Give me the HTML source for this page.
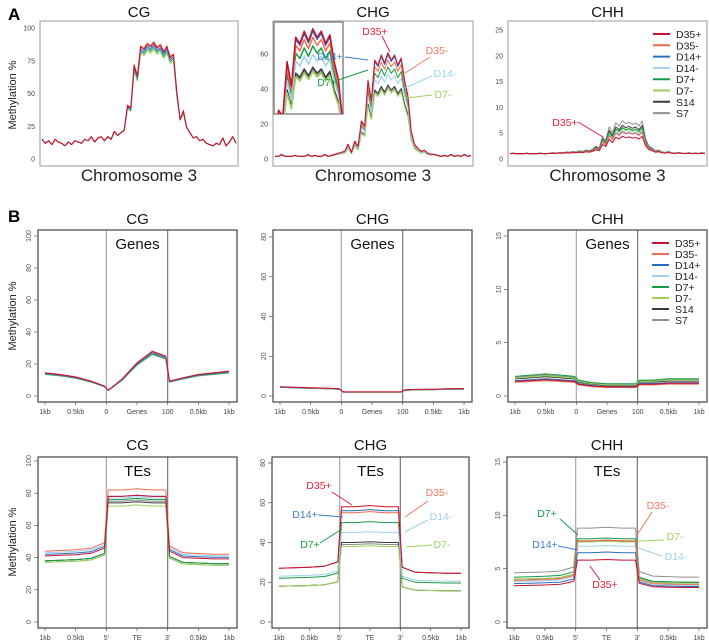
<!DOCTYPE html>
<html><head><meta charset="utf-8"><style>
html,body{margin:0;padding:0;background:#fff;}
svg{display:block;font-family:"Liberation Sans",Arial,sans-serif;}
</style></head><body>
<svg id="fig" width="709" height="642" viewBox="0 0 709 642" xmlns="http://www.w3.org/2000/svg">
<text x="8" y="20" font-size="17" font-weight="bold">A</text>
<text x="8" y="222" font-size="17" font-weight="bold">B</text>
<text transform="translate(16,95) rotate(-90)" text-anchor="middle" font-size="11" fill="#222">Methylation %</text>
<text transform="translate(16,316) rotate(-90)" text-anchor="middle" font-size="11" fill="#222">Methylation %</text>
<text transform="translate(16,542) rotate(-90)" text-anchor="middle" font-size="11" fill="#222">Methylation %</text>
</svg>
<script>
// ---------- data ----------
const seriesNames = ["D35+","D35-","D14+","D14-","D7+","D7-","S14","S7"];
const seriesColors = ["#c8102e","#f06a4f","#2a6fbf","#9fd0ef","#1a9a45","#9ad35a","#3a3a3a","#909090"];
const drawOrder = [7,6,5,4,3,2,1,0];

// Panel A (chromosome 3)
const chrCG = [15,12,14,11,15,13,12,10,13,11,14,13,12,15,14,17,13,16,17,14,17,15,21,18,20,22,40,38,70,62,84,82,86,84,87,83,85,80,84,76,78,50,30,36,24,20,16,17,14,15,12,11,10,12,11,16,10,13,17,12];
const cgMult = [1.02,1.03,1.0,0.99,0.98,0.96,0.99,0.98];
const chgShape = [0,0,0.02,0,0,0,0.01,0,0,0,0.02,0,0.01,0,0,0.02,0,0.01,0.02,0.03,0.04,0.05,0.12,0.04,0.15,0.1,0.35,0.3,0.75,0.55,0.95,0.9,1.0,0.92,1.02,0.95,1.0,0.9,0.97,0.75,0.6,0.25,0.12,0.08,0.05,0.06,0.03,0.02,0.02,0.01,0,0.01,0,0.02,0,0.01,0,0.02,0,0.01];
const chgPlateau = [58,54,57,46,50,38,40,39];
const chgBase = 1.5;
const chhShape = [0,0.02,0,0.01,0,0.02,0,0.01,0,0.02,0.01,0,0.02,0.03,0.02,0.04,0.03,0.05,0.04,0.06,0.05,0.08,0.06,0.1,0.08,0.12,0.2,0.15,0.45,0.35,0.7,0.55,0.8,0.72,0.85,0.78,0.82,0.76,0.8,0.72,0.85,0.4,0.2,0.15,0.08,0.1,0.05,0.04,0.06,0.03,0.02,0.04,0.02,0.01,0.03,0.01,0.02,0.01,0.03,0.02];
const chhPlateau = [4,5,5,5.3,6,5.8,6.5,7.5];
const chhBase = 1.0;
const ticksA_CG = [0,25,50,75,100];
const ticksA_CHG = [0,20,40,60];
const ticksA_CHH = [0,5,10,15,20,25];

// Panel B (metaplots)
const metaX = [0,0.25,0.5,0.75,0.97,1.03,1.25,1.5,1.75,1.97,2.03,2.25,2.5,2.75,3];
const genesCG = [14,13,11.5,9,6,3.5,10,20,27,24,9,11,13,14,15];
const genesCHG = [4.5,4.2,4,3.8,3.5,2,2,2,2,2,3,3.2,3.3,3.5,3.6];
const genesCHH = [1.6,1.7,1.8,1.7,1.6,1.3,1.1,1.0,1.0,1.0,1.3,1.3,1.4,1.4,1.4];
const teShape = [1,1.01,1.02,1.04,1.12,1,1.0,1.01,1.0,1.0,1.1,1.0,0.99,0.98,0.98];
const genesCGLevels = [[1.03,1.03,1.03],[1.04,1.04,1.04],[1,1,1],[0.99,0.99,0.99],[0.97,0.97,0.97],[0.96,0.96,0.96],[0.98,0.98,0.98],[0.98,0.98,0.98]];
const genesCHGLevels = [[1.04,1.04,1.04],[1.03,1.03,1.03],[1,1,1],[0.99,0.99,0.99],[0.97,0.97,0.97],[0.96,0.96,0.96],[0.98,0.98,0.98],[0.98,0.98,0.98]];
const genesCHHLevels = [[0.85,0.85,0.85],[0.8,0.8,0.8],[0.9,0.9,0.9],[0.85,0.85,0.85],[1.15,1.15,1.15],[1.05,1.05,1.05],[1.0,1.0,1.0],[1.1,1.1,1.1]];
const teCGLevels = [[41,78,40],[44,82,43],[42,78,41],[43,77,42],[38,76,37],[37,72,36],[38,74,37],[37,75,36]];
const teCHGLevels = [[27,58,25],[27,55,25],[27,56,25],[23,45,21],[22,50,20],[18,38,16],[18,40,16],[18,39,16]];
const teCHHLevels = [[3.4,5.8,3.3],[3.9,7.6,3.6],[3.6,6.5,3.4],[3.8,7.1,3.5],[4.2,7.8,3.8],[4.0,7.5,3.7],[4.0,7.6,3.8],[4.6,8.8,4.3]];
const ticksB_CG = [0,20,40,60,80,100];
const ticksB_CHG = [0,20,40,60,80];
const ticksB_CHH = [0,5,10,15];
const genesXLabels = ["1kb","0.5kb","0","Genes","100","0.5kb","1kb"];
const teXLabels = ["1kb","0.5kb","5'","TE","3'","0.5kb","1kb"];

// ---------- drawing ----------
const NS = "http://www.w3.org/2000/svg";
const svg = document.getElementById("fig");
function mk(tag, attrs, parent){
  const e = document.createElementNS(NS, tag);
  for (const k in attrs) e.setAttribute(k, attrs[k]);
  (parent||svg).appendChild(e);
  return e;
}
function txt(x,y,s,size,fill,anchor,parent){
  const t = mk("text",{x:x,y:y,"font-size":size,fill:fill||"#222","text-anchor":anchor||"middle"},parent);
  t.textContent = s;
  return t;
}
function linScale(d0,d1,r0,r1){ return v => r0 + (v-d0)/(d1-d0)*(r1-r0); }

function frame(x0,y0,x1,y1,stroke,name){
  const r = mk("rect",{x:x0,y:y0,width:x1-x0,height:y1-y0,fill:"none",stroke:stroke,"stroke-width":1.2});
  
  
}

function yTicksA(x0,ys,ticks,name){
  const g = mk("g",{});
  
  
  ticks.forEach(v=>{ txt(x0-5, ys(v)+2.5, String(v), 7, "#444", "end", g); });
}
function yTicksB(x0,ys,ticks,name){
  const g = mk("g",{});
  
  
  ticks.forEach(v=>{
    mk("line",{x1:x0-4,x2:x0,y1:ys(v),y2:ys(v),stroke:"#555","stroke-width":0.7},g);
    const t = txt(0,0,String(v),7,"#555","middle",g);
    t.setAttribute("transform","translate("+(x0-7)+","+ys(v)+") rotate(-90)");
  });
}
function polyline(pts,color,w,name,parent){
  const p = mk("polyline",{points:pts.map(p=>p[0].toFixed(1)+","+p[1].toFixed(1)).join(" "),fill:"none",stroke:color,"stroke-width":w,"stroke-linejoin":"round"},parent);
  
  
  return p;
}

// ---- Panel A ----
function chrPanel(x0,x1,y0,y1,ys,ticks,valueFn,n,title,key,lw){
  txt((x0+x1)/2, 17, title, 15, "#111");
  frame(x0,y0,x1,y1,"#aaa","a-"+key+"-frame");
  yTicksA(x0,ys,ticks,"a-"+key+"-y-ticks");
  const xs = linScale(0,n-1,x0+2,x1-2);
  drawOrder.forEach(s=>{
    const pts=[]; for(let i=0;i<n;i++) pts.push([xs(i), ys(valueFn(s,i))]);
    polyline(pts, seriesColors[s], lw, "a-"+key+"-line-"+seriesNames[s]);
  });
  const t = txt((x0+x1)/2, 181, "Chromosome 3", 17, "#222");
  
  
}
const ysACG = linScale(0,100,159,28);
chrPanel(40,238,21,166,ysACG,ticksA_CG,(s,i)=>chrCG[i]*(chrCG[i]>30?cgMult[s]:1),chrCG.length,"CG","cg",1);
const ysACHG = linScale(0,20,159,124);
chrPanel(273,473,21,166,ysACHG,ticksA_CHG,(s,i)=>chgBase+chgShape[i]*chgPlateau[s],chgShape.length,"CHG","chg",1);
const ysACHH = linScale(0,25,159,30);
chrPanel(508,707,21,166,ysACHH,ticksA_CHH,(s,i)=>chhBase+chhShape[i]*chhPlateau[s],chhShape.length,"CHH","chh",1);

// inset in A-CHG
(function(){
  const ix0=274, ix1=343, iy0=22, iy1=114;
  const r = mk("rect",{x:ix0,y:iy0,width:ix1-ix0,height:iy1-iy0,fill:"#fff",stroke:"#888","stroke-width":1.5});
  
  
  const defs = mk("defs",{});
  const cp = mk("clipPath",{id:"insetclip"},defs);
  mk("rect",{x:ix0,y:iy0,width:ix1-ix0,height:iy1-iy0},cp);
  const g = mk("g",{"clip-path":"url(#insetclip)"});
  
  
  const i0=24,i1=42;
  const xs = linScale(i0,i1,ix0-4,ix1+4);
  const ys = linScale(20,62,iy1,iy0+4);
  drawOrder.forEach(s=>{
    const pts=[]; for(let i=i0;i<=i1;i++) pts.push([xs(i), ys(chgBase+chgShape[i]*chgPlateau[s])]);
    polyline(pts, seriesColors[s], 1.5, "a-chg-inset-line-"+seriesNames[s], g);
  });
})();

// legends
function legend(x,y,step,key){
  const g = mk("g",{});
  
  
  seriesNames.forEach((n,i)=>{
    const yy = y+i*step;
    mk("line",{x1:x,x2:x+17,y1:yy,y2:yy,stroke:seriesColors[i],"stroke-width":2},g);
    txt(x+23,yy+4,n,10.5,"#222","start",g);
  });
}
legend(653,34,11.3,"a-legend");
legend(652,243,11,"b-legend");

// annotations
function ann(label,color,tx,ty,lx1,ly1,lx2,ly2,anchor,name){
  const g = mk("g",{});
  
  
  mk("line",{x1:lx1,y1:ly1,x2:lx2,y2:ly2,stroke:color,"stroke-width":1},g);
  txt(tx,ty,label,10.5,color,anchor||"middle",g);
}
ann("D35+","#e8203c",375,35,382,36,390,52,"middle","a-chg-annot-d35p");
ann("D35-","#f07a5f",437,54,430,57,405,73,"middle","a-chg-annot-d35m");
ann("D14+","#3a7fcf",330,60,345,57,368,60,"middle","a-chg-annot-d14p");
ann("D14-","#9fd0ef",445,77,432,76,405,88,"middle","a-chg-annot-d14m");
ann("D7+","#1a9a45",327,86,338,80,368,70,"middle","a-chg-annot-d7p");
ann("D7-","#9ad35a",443,98,432,95,406,98,"middle","a-chg-annot-d7m");
ann("D35+","#e8203c",565,126,578,122,603,137,"middle","a-chh-annot-d35p");

// ---- Panel B ----
function metaPanel(x0,x1,y0,y1,ys,ticks,base,levels,xLabels,title,sub,key,titleY){
  txt((x0+x1)/2, titleY, title, 15, "#111");
  const xs = linScale(0,3,x0+7,x1-8);
  mk("line",{x1:xs(1),x2:xs(1),y1:y0,y2:y1,stroke:"#aaa","stroke-width":1.2});
  mk("line",{x1:xs(2),x2:xs(2),y1:y0,y2:y1,stroke:"#777","stroke-width":1.2});
  frame(x0,y0,x1,y1,"#444","b-"+key+"-frame");
  yTicksB(x0,ys,ticks,"b-"+key+"-y-ticks");
  const g = mk("g",{});
  
  
  xLabels.forEach((l,i)=>{
    const x = xs(i*0.5);
    mk("line",{x1:x,x2:x,y1:y1,y2:y1+3,stroke:"#555","stroke-width":0.7},g);
    txt(x,y1+12,l,7,"#444","middle",g);
  });
  const st = txt((x0+x1)/2, y0+19, sub, 15, "#111");
  
  
  drawOrder.forEach(s=>{
    const pts = metaX.map((xv,i)=>{
      const seg = i<=4?0:(i<=9?1:2);
      return [xs(xv), ys(base[i]*levels[s][seg])];
    });
    polyline(pts, seriesColors[s], 1, "b-"+key+"-line-"+seriesNames[s]);
  });
}
metaPanel(38,237,230,402,linScale(0,100,396,236),ticksB_CG,genesCG,genesCGLevels,genesXLabels,"CG","Genes","genes-cg",224);
metaPanel(273,472,230,402,linScale(0,80,396,237),ticksB_CHG,genesCHG,genesCHGLevels,genesXLabels,"CHG","Genes","genes-chg",224);
metaPanel(508,707,230,402,linScale(0,15,396,236),ticksB_CHH,genesCHH,genesCHHLevels,genesXLabels,"CHH","Genes","genes-chh",224);
metaPanel(38,237,457,628,linScale(0,100,622,461),ticksB_CG,teShape,teCGLevels,teXLabels,"CG","TEs","tes-cg",450);
metaPanel(272,469,457,628,linScale(0,80,622,463),ticksB_CHG,teShape,teCHGLevels,teXLabels,"CHG","TEs","tes-chg",450);
metaPanel(507,707,457,628,linScale(0,15,622,462),ticksB_CHH,teShape,teCHHLevels,teXLabels,"CHH","TEs","tes-chh",450);

// B annotations
ann("D35+","#e8203c",319,489,332,492,352,505,"middle","b-chg-annot-d35p");
ann("D14+","#3a7fcf",305,518,318,515,343,517,"middle","b-chg-annot-d14p");
ann("D7+","#1a9a45",310,548,320,543,342,529,"middle","b-chg-annot-d7p");
ann("D35-","#f07a5f",437,496,428,501,405,517,"middle","b-chg-annot-d35m");
ann("D14-","#9fd0ef",441,520,428,520,405,532,"middle","b-chg-annot-d14m");
ann("D7-","#9ad35a",442,548,432,545,406,547,"middle","b-chg-annot-d7m");
ann("D7+","#1a9a45",547,517,560,519,578,535,"middle","b-chh-annot-d7p");
ann("D14+","#3a7fcf",545,548,558,546,578,550,"middle","b-chh-annot-d14p");
ann("D35+","#e8203c",605,588,600,580,590,566,"middle","b-chh-annot-d35p");
ann("D35-","#f07a5f",658,509,652,512,637,535,"middle","b-chh-annot-d35m");
ann("D7-","#9ad35a",675,540,664,540,638,541,"middle","b-chh-annot-d7m");
ann("D14-","#9fd0ef",676,560,662,556,638,548,"middle","b-chh-annot-d14m");
</script>
</body></html>
